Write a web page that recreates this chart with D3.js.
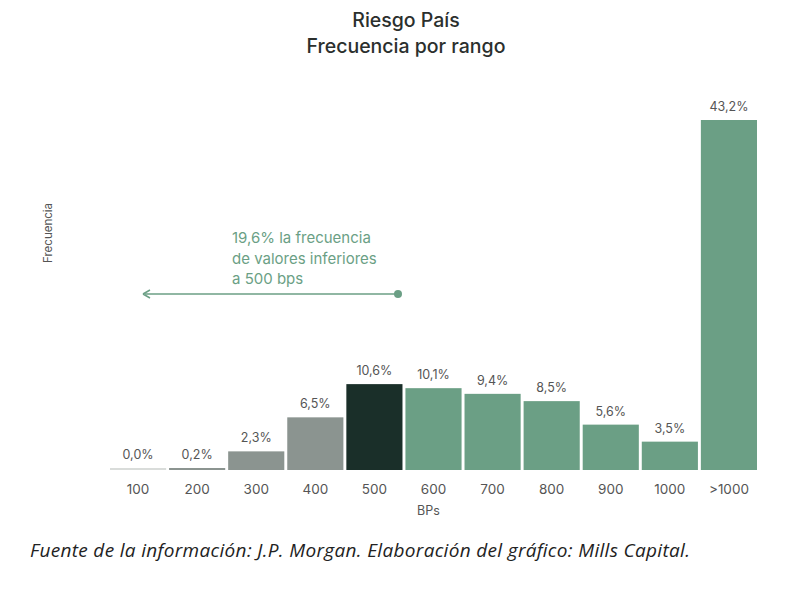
<!DOCTYPE html>
<html>
<head>
<meta charset="utf-8">
<script src="https://cdn.jsdelivr.net/npm/d3@7"></script>
<style>
  body { margin: 0; background: #fff; }
  svg { display: block; font-family: "Inter", "Lato", sans-serif; }
</style>
</head>
<body>
<svg id="chart" width="800" height="595"></svg>
<script>
// ─── Data ──────────────────────────────────────────────
const ranges = ['100', '200', '300', '400', '500', '600', '700', '800', '900', '1000', '>1000'];
const freq = [0.0, 0.2, 2.3, 6.5, 10.6, 10.1, 9.4, 8.5, 5.6, 3.5, 43.2];
const freqLabels = ['0,0%', '0,2%', '2,3%', '6,5%', '10,6%', '10,1%', '9,4%', '8,5%', '5,6%', '3,5%', '43,2%'];
const noteLines = ['19,6% la frecuencia', 'de valores inferiores', 'a 500 bps'];

const GREEN = '#6b9f85', GRAY = '#8b9490', DARK = '#1a2f29', ZERO = '#d9dcda';
function barColor(i) {
    if (freq[i] === 0) return ZERO;
    if (i < 4) return GRAY;
    if (i === 4) return DARK;
    return GREEN;
}

const svg = d3.select('#chart');
const baseY = 470;

const x = d3.scaleBand().domain(ranges).range([110, 757]).paddingInner(0.05).paddingOuter(0);
const y = d3.scaleLinear().domain([0, 43.2]).range([baseY, 120]);

// Title
svg.append('text').attr('x', 406).attr('y', 27).attr('text-anchor', 'middle')
    .attr('font-size', 19.5).attr('font-weight', 500).attr('fill', '#2b2f2d').text('Riesgo País');
svg.append('text').attr('x', 406).attr('y', 53).attr('text-anchor', 'middle')
    .attr('font-size', 19.5).attr('font-weight', 500).attr('fill', '#2b2f2d').text('Frecuencia por rango');

// Bars
svg.selectAll('rect.bar').data(ranges).enter().append('rect')
    .attr('class', 'bar')
    .attr('x', d => x(d))
    .attr('width', x.bandwidth())
    .attr('y', (d, i) => Math.min(y(freq[i]), baseY - 2))
    .attr('height', (d, i) => Math.max(baseY - y(freq[i]), 2))
    .attr('fill', (d, i) => barColor(i));

// Value labels
svg.selectAll('text.val').data(ranges).enter().append('text')
    .attr('class', 'val')
    .attr('x', d => x(d) + x.bandwidth() / 2)
    .attr('y', (d, i) => Math.min(y(freq[i]), baseY - 2) - 9)
    .attr('text-anchor', 'middle').attr('font-size', 12.5).attr('fill', '#555')
    .text((d, i) => freqLabels[i]);

// X axis labels
const xAxis = d3.axisBottom(x).tickSize(0).tickPadding(0);
const gx = svg.append('g').attr('transform', `translate(0,${baseY})`).call(xAxis);
gx.select('.domain').remove();
gx.selectAll('text').attr('dy', 0).attr('y', 24)
    .attr('font-size', 13.5).attr('fill', '#555').attr('font-family', '"Inter", sans-serif');

svg.append('text').attr('x', x('600') + x.bandwidth() / 2 - 5).attr('y', 515)
    .attr('text-anchor', 'middle').attr('font-size', 12.5).attr('fill', '#555').text('BPs');

// Y axis title
svg.append('text').attr('transform', 'translate(52,233) rotate(-90)')
    .attr('text-anchor', 'middle').attr('font-size', 11.5).attr('fill', '#555').text('Frecuencia');

// Annotation
svg.append('text').attr('x', 232).attr('y', 243).attr('font-size', 15).attr('fill', GREEN)
    .selectAll('tspan').data(noteLines).enter().append('tspan')
    .attr('x', 232).attr('dy', (d, i) => i === 0 ? 0 : 20.5).text(d => d);

const arrowY = 294, arrowX1 = 143, arrowX2 = 398;
svg.append('line').attr('x1', arrowX1 + 2).attr('x2', arrowX2).attr('y1', arrowY).attr('y2', arrowY)
    .attr('stroke', GREEN).attr('stroke-width', 1.5);
svg.append('path')
    .attr('d', `M${arrowX1},${arrowY} L${arrowX1 + 7},${arrowY - 4} M${arrowX1},${arrowY} L${arrowX1 + 7},${arrowY + 4}`)
    .attr('stroke', GREEN).attr('stroke-width', 1.5).attr('fill', 'none');
svg.append('circle').attr('cx', arrowX2).attr('cy', arrowY).attr('r', 4).attr('fill', GREEN);

// Footer
svg.append('text').attr('x', 30).attr('y', 557)
    .attr('font-family', '"Open Sans", sans-serif').attr('font-style', 'italic')
    .attr('font-size', 19).attr('fill', '#222')
    .attr('textLength', 660).attr('lengthAdjust', 'spacing')
    .text('Fuente de la información: J.P. Morgan. Elaboración del gráfico: Mills Capital.');
</script>
</body>
</html>
